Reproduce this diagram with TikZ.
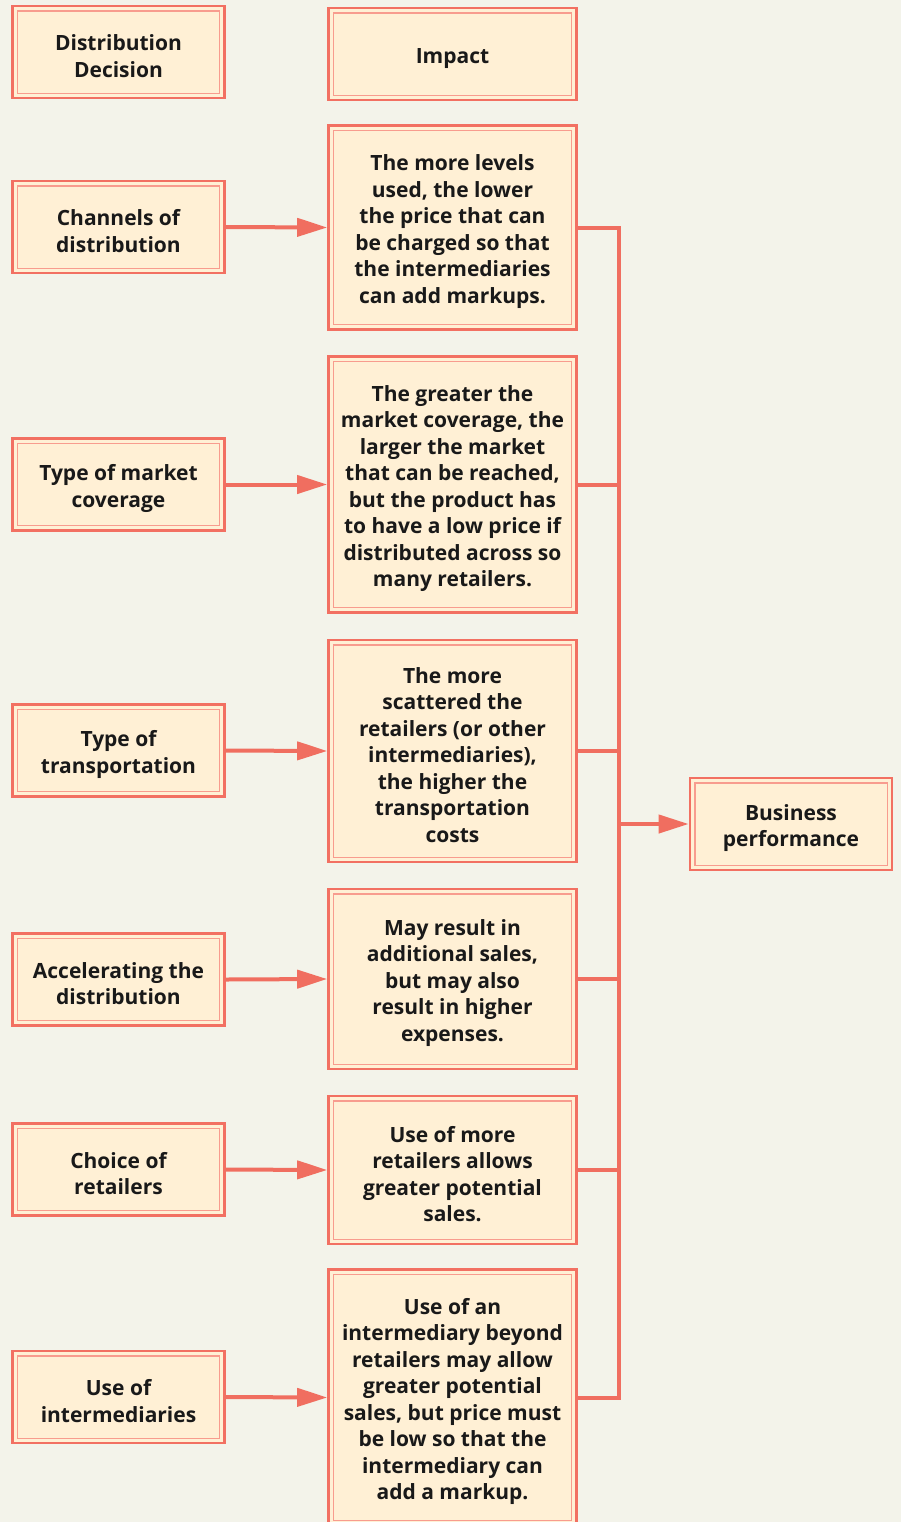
\documentclass[tikz,border=0pt]{standalone}
\usepackage{fontspec}
\setmainfont{Open Sans}
\usetikzlibrary{arrows.meta}

\definecolor{pagebg}{HTML}{F3F3EA}
\definecolor{boxfill}{HTML}{FFF0D5}
\definecolor{boxline}{HTML}{F27062}
\definecolor{innerline}{HTML}{F89C8E}
\definecolor{linkred}{HTML}{F06E60}

% taller first line, so the text sits a little lower in its box
\newcommand{\lift}{\rule{0pt}{12pt}}

\tikzset{
  dbox/.style={draw=boxline, line width=1.3pt, fill=boxfill, align=center,
    font=\bfseries\fontsize{10.5}{13.25}\selectfont, text=black!90, inner sep=0pt,
    path picture={\draw[innerline, line width=0.7pt]
      ([shift={(2.4pt,2.4pt)}]path picture bounding box.south west) rectangle
      ([shift={(-2.4pt,-2.4pt)}]path picture bounding box.north east);}},
  decision/.style={dbox, minimum width=106pt, minimum height=46pt},
  impact/.style={dbox, minimum width=124pt},
  link/.style={draw=linkred, line width=2pt},
  arr/.style={link, -{Triangle[length=15pt, width=9pt]}}
}

\begin{document}
\begin{tikzpicture}[x=0.5pt, y=-0.5pt]

  \def\Lx{118.5}  % left column
  \def\Mx{452.5}  % middle column
  \def\Bx{619}    % collecting line

  \fill[pagebg] (0,0) rectangle (901,1522);
  \useasboundingbox (0,0) rectangle (901,1522);

  % headings
  \node[decision] (dd) at (\Lx,52) {\lift Distribution\\Decision};
  \node[impact, minimum height=46pt] (imp) at (\Mx,54) {\lift Impact};

  % decisions
  \node[decision] (ch)  at (\Lx,227)    {\lift Channels of\\distribution};
  \node[decision] (cov) at (\Lx,484.5)  {\lift Type of market\\coverage};
  \node[decision] (tra) at (\Lx,750.5)  {\lift Type of\\transportation};
  \node[decision] (acc) at (\Lx,979.5)  {\lift Accelerating the\\distribution};
  \node[decision] (ret) at (\Lx,1169.5) {\lift Choice of\\retailers};
  \node[decision] (int) at (\Lx,1397)   {\lift Use of\\intermediaries};

  % impacts
  \node[impact, minimum height=102pt] (i1) at (\Mx,227.5)
    {\lift The more levels\\used, the lower\\the price that can\\be charged so that\\the intermediaries\\can add markups.};
  \node[impact, minimum height=128pt] (i2) at (\Mx,484.5)
    {\lift The greater the\\market coverage, the\\larger the market\\that can be reached,\\but the product has\\to have a low price if\\distributed across so\\many retailers.};
  \node[impact, minimum height=111pt] (i3) at (\Mx,751)
    {\lift The more\\scattered the\\retailers (or other\\intermediaries),\\the higher the\\transportation\\costs};
  \node[impact, minimum height=90pt] (i4) at (\Mx,979)
    {\lift May result in\\additional sales,\\but may also\\result in higher\\expenses.};
  \node[impact, minimum height=74pt] (i5) at (\Mx,1170)
    {\lift Use of more\\retailers allows\\greater potential\\sales.};
  \node[impact, minimum height=128pt] (i6) at (\Mx,1397.5)
    {\lift Use of an\\intermediary beyond\\retailers may allow\\greater potential\\sales, but price must\\be low so that the\\intermediary can\\add a markup.};

  % result
  \node[dbox, minimum width=101pt, minimum height=46pt] (perf) at (791,824)
    {\lift Business\\performance};

  % arrows into the impacts
  \draw[arr] (ch.east)  -- (i1.west);
  \draw[arr] (cov.east) -- (i2.west);
  \draw[arr] (tra.east) -- (i3.west);
  \draw[arr] (acc.east) -- (i4.west);
  \draw[arr] (ret.east) -- (i5.west);
  \draw[arr] (int.east) -- (i6.west);

  % collecting line
  \draw[link, line join=miter] (i1.east) -- (i1.east -| \Bx,0) -- (i6.east -| \Bx,0) -- (i6.east);
  \foreach \n in {i2,i3,i4,i5}
    \draw[link] (\n.east) -- (\n.east -| \Bx,0);
  \draw[arr] (perf.west -| \Bx,0) -- (perf.west);

\end{tikzpicture}
\end{document}
